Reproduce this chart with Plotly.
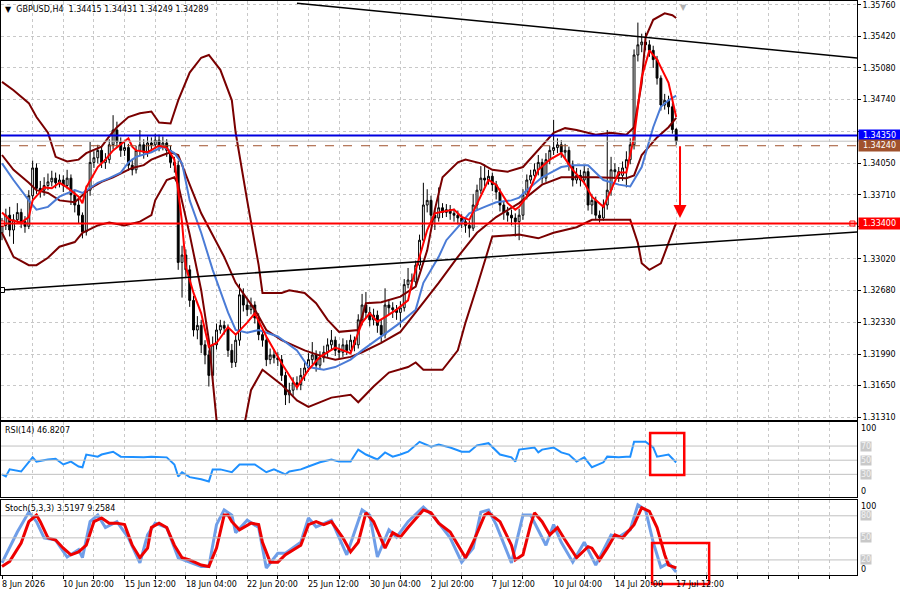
import plotly.graph_objects as go

# GBPUSD H4 candles, bar 0 = 8 Jun 2026, last bar = 17 Jul 12:00
opens = [
    1.3330, 1.3338, 1.3349, 1.3333, 1.3344, 1.3352, 1.3342, 1.3337, 1.3370, 1.3400,
    1.3378, 1.3376, 1.3381, 1.3385, 1.3389, 1.3384, 1.3387, 1.3381, 1.3389, 1.3371,
    1.3360, 1.3349, 1.3331, 1.3376, 1.3406, 1.3411, 1.3419, 1.3406, 1.3409, 1.3425,
    1.3441, 1.3428, 1.3419, 1.3422, 1.3403, 1.3398, 1.3419, 1.3425, 1.3417, 1.3427,
    1.3425, 1.3430, 1.3423, 1.3427, 1.3419, 1.3406, 1.3403, 1.3298, 1.3306, 1.3290,
    1.3257, 1.3225, 1.3230, 1.3209, 1.3198, 1.3176, 1.3209, 1.3225, 1.3230, 1.3227,
    1.3203, 1.3190, 1.3214, 1.3263, 1.3252, 1.3247, 1.3252, 1.3238, 1.3220, 1.3214,
    1.3193, 1.3198, 1.3195, 1.3193, 1.3176, 1.3155, 1.3160, 1.3168, 1.3166, 1.3176,
    1.3184, 1.3193, 1.3198, 1.3187, 1.3195, 1.3201, 1.3209, 1.3214, 1.3203, 1.3201,
    1.3209, 1.3203, 1.3214, 1.3209, 1.3236, 1.3252, 1.3244, 1.3236, 1.3241, 1.3230,
    1.3220, 1.3252, 1.3249, 1.3247, 1.3244, 1.3249, 1.3274, 1.3279, 1.3277, 1.3295,
    1.3322, 1.3360, 1.3365, 1.3349, 1.3346, 1.3357, 1.3352, 1.3355, 1.3351, 1.3349,
    1.3346, 1.3342, 1.3338, 1.3335, 1.3360, 1.3376, 1.3389, 1.3387, 1.3391, 1.3382,
    1.3374, 1.3360, 1.3352, 1.3349, 1.3346, 1.3342, 1.3349, 1.3371, 1.3387, 1.3392,
    1.3398, 1.3406, 1.3389, 1.3409, 1.3419, 1.3422, 1.3425, 1.3417, 1.3419, 1.3403,
    1.3387, 1.3392, 1.3387, 1.3396, 1.3360, 1.3365, 1.3349, 1.3346, 1.3360, 1.3376,
    1.3398, 1.3396, 1.3392, 1.3400, 1.3409, 1.3425, 1.3522, 1.3533, 1.3536, 1.3533,
    1.3527, 1.3517, 1.3497, 1.3468, 1.3473, 1.3466, 1.34415,
]
highs = [
    1.3346, 1.3356, 1.3358, 1.3350, 1.3362, 1.3356, 1.3348, 1.3376, 1.3408, 1.3405,
    1.3386, 1.3390, 1.3394, 1.3397, 1.3395, 1.3393, 1.3392, 1.3398, 1.3393, 1.3375,
    1.3366, 1.3352, 1.3381, 1.3428, 1.3418, 1.3425, 1.3423, 1.3416, 1.3431, 1.3457,
    1.3450, 1.3433, 1.3429, 1.3426, 1.3410, 1.3424, 1.3441, 1.3431, 1.3434, 1.3433,
    1.3437, 1.3436, 1.3434, 1.3431, 1.3424, 1.3412, 1.3408, 1.3316, 1.3312, 1.3295,
    1.3262, 1.3240, 1.3236, 1.3214, 1.3203, 1.3218, 1.3232, 1.3236, 1.3235, 1.3231,
    1.3210, 1.3220, 1.3275, 1.3270, 1.3258, 1.3260, 1.3256, 1.3243, 1.3226, 1.3218,
    1.3205, 1.3204, 1.3201, 1.3198, 1.3180, 1.3168, 1.3174, 1.3175, 1.3184, 1.3191,
    1.3200, 1.3212, 1.3203, 1.3202, 1.3208, 1.3216, 1.3225, 1.3218, 1.3210, 1.3216,
    1.3214, 1.3220, 1.3218, 1.3242, 1.3264, 1.3266, 1.3250, 1.3248, 1.3246, 1.3236,
    1.3270, 1.3258, 1.3255, 1.3252, 1.3256, 1.3280, 1.3292, 1.3286, 1.3300, 1.3328,
    1.3384, 1.3377, 1.3370, 1.3354, 1.3379, 1.3362, 1.3361, 1.3360, 1.3356, 1.3354,
    1.3350, 1.3346, 1.3343, 1.3372, 1.3382, 1.3402, 1.3404, 1.3398, 1.3395, 1.3386,
    1.3378, 1.3364, 1.3358, 1.3355, 1.3351, 1.3356, 1.3377, 1.3393, 1.3398, 1.3405,
    1.3414, 1.3410, 1.3416, 1.3424, 1.3452, 1.3432, 1.3430, 1.3426, 1.3423, 1.3408,
    1.3400, 1.3398, 1.3403, 1.3400, 1.3372, 1.3369, 1.3354, 1.3366, 1.3441, 1.3412,
    1.3405, 1.3401, 1.3407, 1.3418, 1.3432, 1.3528, 1.3557, 1.3545, 1.3546, 1.3538,
    1.3532, 1.3521, 1.3500, 1.3480, 1.3478, 1.3470, 1.34431,
]
lows = [
    1.3322, 1.3333, 1.3326, 1.3318, 1.3340, 1.3335, 1.3330, 1.3334, 1.3366, 1.3372,
    1.3368, 1.3370, 1.3376, 1.3380, 1.3378, 1.3379, 1.3374, 1.3377, 1.3360, 1.3352,
    1.3340, 1.3324, 1.3327, 1.3370, 1.3400, 1.3405, 1.3400, 1.3399, 1.3405, 1.3420,
    1.3422, 1.3412, 1.3413, 1.3397, 1.3392, 1.3394, 1.3414, 1.3410, 1.3412, 1.3419,
    1.3421, 1.3418, 1.3419, 1.3412, 1.3400, 1.3395, 1.3290, 1.3260, 1.3282, 1.3250,
    1.3218, 1.3215, 1.3200, 1.3188, 1.3164, 1.3170, 1.3204, 1.3221, 1.3220, 1.3196,
    1.3184, 1.3185, 1.3208, 1.3245, 1.3240, 1.3242, 1.3232, 1.3214, 1.3207, 1.3186,
    1.3188, 1.3189, 1.3186, 1.3170, 1.3144, 1.3146, 1.3154, 1.3160, 1.3160, 1.3170,
    1.3180, 1.3188, 1.3180, 1.3182, 1.3190, 1.3196, 1.3204, 1.3197, 1.3194, 1.3196,
    1.3198, 1.3199, 1.3202, 1.3205, 1.3230, 1.3238, 1.3229, 1.3230, 1.3222, 1.3212,
    1.3216, 1.3242, 1.3238, 1.3236, 1.3228, 1.3245, 1.3270, 1.3270, 1.3272, 1.3290,
    1.3318, 1.3352, 1.3340, 1.3333, 1.3342, 1.3346, 1.3347, 1.3344, 1.3342, 1.3339,
    1.3335, 1.3330, 1.3325, 1.3332, 1.3355, 1.3372, 1.3380, 1.3382, 1.3375, 1.3366,
    1.3353, 1.3344, 1.3342, 1.3338, 1.3326, 1.3322, 1.3344, 1.3366, 1.3383, 1.3387,
    1.3392, 1.3383, 1.3385, 1.3404, 1.3414, 1.3416, 1.3411, 1.3410, 1.3397, 1.3380,
    1.3383, 1.3380, 1.3382, 1.3354, 1.3350, 1.3344, 1.3341, 1.3343, 1.3355, 1.3370,
    1.3388, 1.3385, 1.3386, 1.3379, 1.3404, 1.3420, 1.3515, 1.3525, 1.3527, 1.3520,
    1.3508, 1.3490, 1.3462, 1.3463, 1.3458, 1.3437, 1.34249,
]
closes = [
    1.3338, 1.3349, 1.3333, 1.3344, 1.3352, 1.3342, 1.3337, 1.3370, 1.3400, 1.3378,
    1.3376, 1.3381, 1.3385, 1.3389, 1.3384, 1.3387, 1.3381, 1.3389, 1.3371, 1.3360,
    1.3349, 1.3331, 1.3376, 1.3406, 1.3411, 1.3419, 1.3406, 1.3409, 1.3425, 1.3441,
    1.3428, 1.3419, 1.3422, 1.3403, 1.3398, 1.3419, 1.3425, 1.3417, 1.3427, 1.3425,
    1.3430, 1.3423, 1.3427, 1.3419, 1.3406, 1.3403, 1.3298, 1.3306, 1.3290, 1.3257,
    1.3225, 1.3230, 1.3209, 1.3198, 1.3176, 1.3209, 1.3225, 1.3230, 1.3227, 1.3203,
    1.3190, 1.3214, 1.3263, 1.3252, 1.3247, 1.3252, 1.3238, 1.3220, 1.3214, 1.3193,
    1.3198, 1.3195, 1.3193, 1.3176, 1.3155, 1.3160, 1.3168, 1.3166, 1.3176, 1.3184,
    1.3193, 1.3198, 1.3187, 1.3195, 1.3201, 1.3209, 1.3214, 1.3203, 1.3201, 1.3209,
    1.3203, 1.3214, 1.3209, 1.3236, 1.3252, 1.3244, 1.3236, 1.3241, 1.3230, 1.3220,
    1.3252, 1.3249, 1.3247, 1.3244, 1.3249, 1.3274, 1.3279, 1.3277, 1.3295, 1.3322,
    1.3360, 1.3365, 1.3349, 1.3346, 1.3357, 1.3352, 1.3355, 1.3351, 1.3349, 1.3346,
    1.3342, 1.3338, 1.3335, 1.3360, 1.3376, 1.3389, 1.3387, 1.3391, 1.3382, 1.3374,
    1.3360, 1.3352, 1.3349, 1.3346, 1.3342, 1.3349, 1.3371, 1.3387, 1.3392, 1.3398,
    1.3406, 1.3389, 1.3409, 1.3419, 1.3422, 1.3425, 1.3417, 1.3419, 1.3403, 1.3387,
    1.3392, 1.3387, 1.3396, 1.3360, 1.3365, 1.3349, 1.3346, 1.3360, 1.3376, 1.3398,
    1.3396, 1.3392, 1.3400, 1.3409, 1.3425, 1.3522, 1.3533, 1.3536, 1.3533, 1.3527,
    1.3517, 1.3497, 1.3468, 1.3473, 1.3466, 1.34415, 1.34289,
]
bars = list(range(len(closes)))

x_tick_bars = [0, 16, 32, 48, 64, 80, 96, 112, 128, 144, 160, 176]
x_tick_labels = ["8 Jun 2026", "10 Jun 20:00", "15 Jun 12:00", "18 Jun 04:00",
                 "22 Jun 20:00", "25 Jun 12:00", "30 Jun 04:00", "2 Jul 20:00",
                 "7 Jul 12:00", "10 Jul 04:00", "14 Jul 20:00", "17 Jul 12:00"]

price_ticks = [1.35760, 1.35420, 1.35080, 1.34740, 1.34395, 1.34050, 1.33710,
               1.33365, 1.33020, 1.32680, 1.32330, 1.31990, 1.31650, 1.31310]
price_tick_text = ["1.35760", "1.35420", "1.35080", "1.34740", "", "1.34050", "1.33710",
                   "", "1.33020", "1.32680", "1.32330", "1.31990", "1.31650", "1.31310"]

# moving averages
fast_ma_bars = [0, 2, 5, 7, 8, 11, 13, 15, 17, 20, 21, 22, 25, 27, 29, 33, 34, 35, 38, 41,
                43, 45, 47, 48, 50, 52, 54, 56, 59, 61, 64, 66, 69, 73, 77, 80, 83, 87, 91, 94,
                96, 98, 100, 103, 106, 107, 109, 111, 113, 114, 118, 120, 122, 125, 127, 129,
                132, 134, 135, 137, 140, 143, 146, 149, 152, 154, 157, 159, 161, 163, 165, 167,
                169, 171, 174, 176]
fast_ma = [1.3352, 1.3344, 1.3341, 1.3347, 1.3365, 1.3379, 1.3378, 1.3384, 1.3379, 1.3369,
           1.3362, 1.3379, 1.3401, 1.3409, 1.3419, 1.3432, 1.3423, 1.3419, 1.3417, 1.3424,
           1.3422, 1.3409, 1.3341, 1.3293, 1.3265, 1.3243, 1.3207, 1.3211, 1.3228, 1.3220,
           1.3233, 1.3243, 1.3218, 1.3189, 1.3163, 1.3182, 1.3196, 1.3206, 1.3200, 1.3233,
           1.3243, 1.3234, 1.3239, 1.3247, 1.3257, 1.3276, 1.3304, 1.3333, 1.3351, 1.3352,
           1.3355, 1.3347, 1.3344, 1.3369, 1.3387, 1.3382, 1.3362, 1.3355, 1.3358, 1.3369,
           1.3398, 1.3409, 1.3416, 1.3398, 1.3384, 1.3369, 1.3358, 1.3376, 1.3395, 1.3395,
           1.3434, 1.3498, 1.3527, 1.3517, 1.3492, 1.3455]

slow_ma_bars = [0, 3, 7, 9, 12, 15, 19, 21, 25, 28, 31, 33, 35, 39, 42, 45, 47, 49, 52, 55,
                59, 61, 64, 67, 72, 77, 80, 84, 87, 91, 94, 99, 104, 108, 110, 114, 116, 119,
                122, 126, 129, 133, 135, 137, 141, 146, 149, 153, 157, 161, 164, 167, 170, 172,
                174, 176]
slow_ma = [1.3405, 1.3387, 1.3365, 1.3355, 1.3358, 1.3369, 1.3376, 1.3373, 1.3384, 1.3389,
           1.3395, 1.3406, 1.3412, 1.3417, 1.3423, 1.3416, 1.3405, 1.3365, 1.3330, 1.3290,
           1.3244, 1.3225, 1.3222, 1.3225, 1.3218, 1.3203, 1.3185, 1.3182, 1.3185, 1.3193,
           1.3203, 1.3218, 1.3233, 1.3247, 1.3276, 1.3304, 1.3322, 1.3336, 1.3351, 1.3358,
           1.3363, 1.3365, 1.3368, 1.3376, 1.3390, 1.3401, 1.3403, 1.3403, 1.3387, 1.3382,
           1.3380, 1.3401, 1.3444, 1.3466, 1.3473, 1.3478]

# Bollinger bands
bb_upper_bars = [0, 3, 7, 9, 12, 14, 17, 20, 22, 26, 28, 30, 33, 36, 39, 41, 44, 46, 49, 52,
                 54, 57, 60, 61, 64, 67, 68, 73, 75, 79, 82, 85, 88, 93, 95, 99, 104, 108, 111,
                 113, 115, 119, 121, 125, 128, 132, 136, 140, 144, 147, 150, 155, 159, 163, 165,
                 167, 168, 170, 173, 175, 176]
bb_upper = [1.3493, 1.3484, 1.3470, 1.3455, 1.3438, 1.3412, 1.3407, 1.3409, 1.3416, 1.3423,
            1.3434, 1.3444, 1.3455, 1.3459, 1.3461, 1.3449, 1.3448, 1.3473, 1.3503, 1.3519,
            1.3522, 1.3506, 1.3473, 1.3438, 1.3365, 1.3295, 1.3265, 1.3265, 1.3268, 1.3265,
            1.3254, 1.3236, 1.3223, 1.3225, 1.3254, 1.3255, 1.3261, 1.3272, 1.3311, 1.3355,
            1.3390, 1.3406, 1.3409, 1.3405, 1.3398, 1.3396, 1.3401, 1.3419, 1.3438, 1.3443,
            1.3441, 1.3436, 1.3438, 1.3436, 1.3444, 1.3492, 1.3541, 1.3560, 1.3567, 1.3565,
            1.3562]
bb_mid_bars = [0, 3, 7, 9, 12, 15, 19, 21, 23, 26, 29, 32, 34, 37, 39, 42, 44, 46, 47, 49,
               52, 58, 61, 66, 69, 73, 79, 84, 87, 91, 94, 99, 104, 108, 114, 119, 124, 129,
               135, 141, 146, 155, 163, 165, 167, 171, 174, 176]
bb_mid = [1.3414, 1.3398, 1.3384, 1.3376, 1.3373, 1.3365, 1.3363, 1.3371, 1.3378, 1.3385,
          1.3390, 1.3396, 1.3400, 1.3403, 1.3409, 1.3414, 1.3417, 1.3414, 1.3403, 1.3382,
          1.3351, 1.3304, 1.3276, 1.3247, 1.3225, 1.3214, 1.3203, 1.3196, 1.3193, 1.3196,
          1.3201, 1.3211, 1.3223, 1.3244, 1.3276, 1.3304, 1.3330, 1.3347, 1.3362, 1.3382,
          1.3390, 1.3390, 1.3389, 1.3392, 1.3414, 1.3433, 1.3444, 1.3454]
bb_lower_bars = [0, 3, 7, 9, 12, 15, 19, 21, 25, 28, 32, 36, 39, 40, 43, 45, 46, 49, 52, 54,
                 56, 58, 61, 63, 65, 68, 73, 77, 80, 86, 91, 93, 97, 101, 106, 108, 110, 115,
                 119, 121, 124, 127, 128, 135, 140, 144, 150, 154, 164, 166, 167, 169, 172,
                 174, 176]
bb_lower = [1.3330, 1.3304, 1.3295, 1.3295, 1.3303, 1.3315, 1.3320, 1.3330, 1.3338, 1.3341,
            1.3338, 1.3342, 1.3349, 1.3365, 1.3387, 1.3390, 1.3382, 1.3328, 1.3268, 1.3214,
            1.3128, 1.3095, 1.3090, 1.3117, 1.3160, 1.3182, 1.3166, 1.3149, 1.3142, 1.3152,
            1.3155, 1.3147, 1.3164, 1.3179, 1.3185, 1.3190, 1.3182, 1.3182, 1.3203, 1.3233,
            1.3272, 1.3311, 1.3326, 1.3328, 1.3324, 1.3330, 1.3336, 1.3344, 1.3344, 1.3319,
            1.3297, 1.3290, 1.3297, 1.3319, 1.3341]

# RSI(14)
rsi_bars = [0, 1, 2, 5, 8, 9, 12, 14, 16, 18, 20, 21, 22, 25, 26, 29, 31, 34, 37, 39,
            43, 45, 46, 47, 49, 52, 54, 55, 57, 60, 62, 66, 69, 71, 74, 75, 78, 80, 83, 86,
            88, 91, 93, 95, 98, 100, 102, 104, 106, 109, 112, 114, 117, 120, 122, 124, 127,
            130, 133, 134, 135, 139, 140, 141, 144, 146, 148, 150, 152, 154, 157, 158, 161,
            163, 164, 165, 168, 170, 171, 174, 176]
rsi_vals = [30, 27, 37, 34, 54, 48, 51, 52, 44, 48, 41, 40, 58, 55, 58, 62, 55, 54, 54, 55,
            54, 44, 27, 33, 26, 23, 20, 37, 37, 33, 44, 44, 33, 37, 30, 34, 37, 41, 47, 51,
            48, 48, 65, 58, 51, 61, 55, 58, 62, 76, 69, 72, 68, 62, 62, 71, 74, 58, 54, 48,
            65, 68, 61, 65, 68, 61, 58, 48, 54, 40, 47, 55, 54, 55, 55, 76, 76, 68, 55, 58,
            46.8207]
rsi_levels = [30, 50, 70]

# Stochastic(5,3,3)
stoch_main_bars = [0, 4, 7, 9, 11, 14, 17, 20, 21, 23, 25, 27, 30, 33, 36, 38, 40, 43, 46,
                   49, 52, 54, 56, 58, 60, 61, 64, 67, 69, 72, 74, 78, 80, 82, 86, 90, 94, 96,
                   98, 101, 103, 106, 110, 113, 117, 120, 123, 125, 127, 129, 132, 133, 136,
                   138, 142, 144, 146, 149, 152, 155, 159, 161, 164, 166, 168, 170, 172, 174, 176]
stoch_main = [16, 58, 85, 72, 50, 47, 24, 34, 23, 72, 81, 64, 72, 50, 16, 54, 70, 64, 23, 17,
              11, 11, 68, 88, 81, 57, 74, 64, 9, 29, 29, 44, 77, 65, 74, 27, 88, 81, 24, 61,
              51, 72, 92, 77, 50, 17, 36, 85, 88, 68, 27, 16, 81, 81, 40, 68, 44, 17, 44, 13,
              54, 51, 61, 95, 88, 44, 10, 16, 3.5197]
stoch_signal_bars = [0, 2, 5, 7, 9, 10, 12, 14, 16, 18, 20, 22, 24, 26, 28, 30, 32, 34, 36, 38,
                     39, 41, 43, 45, 47, 49, 52, 54, 56, 58, 59, 60, 62, 65, 67, 68, 70, 72, 74,
                     78, 80, 82, 84, 86, 89, 91, 93, 95, 97, 100, 102, 104, 106, 110, 112, 114,
                     117, 119, 121, 123, 126, 127, 130, 133, 134, 136, 138, 139, 141, 143, 145,
                     147, 150, 153, 154, 156, 158, 160, 162, 165, 167, 169, 171, 173, 174, 176]
stoch_signal = [11, 18, 43, 72, 81, 72, 50, 47, 36, 27, 31, 40, 72, 77, 70, 70, 68, 40, 23, 36,
                64, 70, 64, 40, 23, 20, 13, 11, 36, 81, 81, 72, 61, 70, 68, 44, 17, 17, 27, 40,
                68, 72, 68, 72, 50, 31, 44, 84, 72, 36, 57, 51, 64, 88, 84, 70, 58, 40, 23, 44,
                81, 84, 72, 40, 20, 27, 68, 84, 72, 54, 64, 47, 23, 38, 36, 20, 36, 54, 50, 68,
                91, 86, 64, 27, 13, 9.2584]
stoch_levels = [20, 50, 80]

# chart objects
level_blue = 1.34350
level_brown = 1.34240
level_red = 1.33400
trend_upper_bars = [77, 224]
trend_upper_prices = [1.35780, 1.35184]
trend_lower_bars = [0, 224]
trend_lower_prices = [1.32682, 1.33312]
handle_bars = [0, 222]
arrow_bar = 177
arrow_from = 1.3425
arrow_to = 1.3346
rsi_box_bars = [169.2, 178.1]
rsi_box_vals = [29, 88.5]
stoch_box_bars = [169.7, 184.6]
stoch_box_vals = [-12.7, 43]

FONT = "DejaVu Sans"
GRID = "#c8c8c8"
X_RANGE = [-0.26, 223.2]
MAIN_DOM = [0.270, 1.0]
RSI_DOM = [0.1359, 0.2666]
STO_DOM = [0.0, 0.1307]
MAIN_RANGE = [1.31278, 1.35803]
RSI_RANGE = [-2, 104]
STO_RANGE = [-0.5, 101.5]


def bar_to_paper(b):
    return (b - X_RANGE[0]) / (X_RANGE[1] - X_RANGE[0])


def sto_to_paper(v):
    return STO_DOM[0] + (v - STO_RANGE[0]) / (STO_RANGE[1] - STO_RANGE[0]) * (STO_DOM[1] - STO_DOM[0])


fig = go.Figure()

fig.add_trace(go.Candlestick(
    x=bars, open=opens, high=highs, low=lows, close=closes,
    increasing=dict(fillcolor="white", line=dict(color="black", width=1)),
    decreasing=dict(fillcolor="black", line=dict(color="black", width=1)),
    whiskerwidth=0, showlegend=False, xaxis="x", yaxis="y",
))

for bx, by in [(bb_upper_bars, bb_upper), (bb_mid_bars, bb_mid), (bb_lower_bars, bb_lower)]:
    fig.add_trace(go.Scatter(x=bx, y=by, mode="lines", line=dict(color="#7a0000", width=2),
                             showlegend=False, xaxis="x", yaxis="y"))
fig.add_trace(go.Scatter(x=slow_ma_bars, y=slow_ma, mode="lines",
                         line=dict(color="#4a7bd6", width=2), showlegend=False, xaxis="x", yaxis="y"))
fig.add_trace(go.Scatter(x=fast_ma_bars, y=fast_ma, mode="lines",
                         line=dict(color="#ff0000", width=2), showlegend=False, xaxis="x", yaxis="y"))

# trendlines
fig.add_trace(go.Scatter(x=trend_upper_bars, y=trend_upper_prices, mode="lines",
                         line=dict(color="black", width=1.5), showlegend=False, xaxis="x", yaxis="y"))
fig.add_trace(go.Scatter(x=trend_lower_bars, y=trend_lower_prices, mode="lines",
                         line=dict(color="black", width=1.5), showlegend=False, xaxis="x", yaxis="y"))

# horizontal levels
fig.add_shape(type="line", xref="paper", x0=0, x1=1, yref="y", y0=closes[-1], y1=closes[-1],
              line=dict(color="#c0c0c0", width=1))
fig.add_shape(type="line", xref="paper", x0=0, x1=1, yref="y", y0=level_brown, y1=level_brown,
              line=dict(color="#a0522d", width=1, dash="dash"))
fig.add_shape(type="line", xref="paper", x0=0, x1=1, yref="y", y0=level_blue, y1=level_blue,
              line=dict(color="#0000e0", width=2))
fig.add_shape(type="line", xref="paper", x0=0, x1=1, yref="y", y0=level_red, y1=level_red,
              line=dict(color="#ff0000", width=2))

fig.add_trace(go.Scatter(x=handle_bars, y=[level_red, level_red], mode="markers",
                         marker=dict(symbol="square", size=5, color="white",
                                     line=dict(color="#ff0000", width=1)),
                         showlegend=False, xaxis="x", yaxis="y"))
fig.add_trace(go.Scatter(x=trend_lower_bars[:1], y=trend_lower_prices[:1], mode="markers",
                         marker=dict(symbol="square", size=5, color="white",
                                     line=dict(color="black", width=1)),
                         showlegend=False, xaxis="x", yaxis="y"))

# RSI panel
for lv in rsi_levels:
    fig.add_shape(type="line", xref="paper", x0=0, x1=1, yref="y2", y0=lv, y1=lv,
                  line=dict(color="#c0c0c0", width=1))
fig.add_trace(go.Scatter(x=rsi_bars, y=rsi_vals, mode="lines",
                         line=dict(color="#1e90ff", width=2), showlegend=False, xaxis="x2", yaxis="y2"))

# Stochastic panel
for lv in stoch_levels:
    fig.add_shape(type="line", xref="paper", x0=0, x1=1, yref="y3", y0=lv, y1=lv,
                  line=dict(color="#c0c0c0", width=1))
fig.add_trace(go.Scatter(x=stoch_main_bars, y=stoch_main, mode="lines",
                         line=dict(color="#6f9ee8", width=3), showlegend=False, xaxis="x3", yaxis="y3"))
fig.add_trace(go.Scatter(x=stoch_signal_bars, y=stoch_signal, mode="lines",
                         line=dict(color="#ee0000", width=3), showlegend=False, xaxis="x3", yaxis="y3"))

# highlight boxes
fig.add_shape(type="rect", xref="x2", yref="y2", x0=rsi_box_bars[0], x1=rsi_box_bars[1],
              y0=rsi_box_vals[0], y1=rsi_box_vals[1], line=dict(color="#ff0000", width=2.5))
fig.add_shape(type="rect", xref="paper", yref="paper",
              x0=bar_to_paper(stoch_box_bars[0]), x1=bar_to_paper(stoch_box_bars[1]),
              y0=sto_to_paper(stoch_box_vals[0]), y1=sto_to_paper(stoch_box_vals[1]),
              line=dict(color="#ff0000", width=2.5))

# arrow
fig.add_annotation(x=arrow_bar, y=arrow_to, ax=arrow_bar, ay=arrow_from, xref="x", yref="y",
                   axref="x", ayref="y", showarrow=True, arrowhead=2, arrowsize=1.3,
                   arrowwidth=2, arrowcolor="#ff0000", text="")

# level price labels on the right scale
for price, bg in [(level_blue, "#0000ff"), (level_brown, "#a0522d"), (level_red, "#ff0000")]:
    fig.add_annotation(xref="paper", x=1, xanchor="left", yref="y", y=price,
                       text=f"{price:.5f}", showarrow=False, bgcolor=bg, borderpad=0,
                       width=41, height=11, xshift=1,
                       font=dict(color="white", size=8, family=FONT))

# panel captions
fig.add_annotation(xref="paper", yref="paper", x=0, y=1, xanchor="left", yanchor="top",
                   xshift=2, yshift=-2, showarrow=False,
                   text=f"▼  GBPUSD,H4  {opens[-1]:.5f} {highs[-1]:.5f} {lows[-1]:.5f} {closes[-1]:.5f}",
                   font=dict(size=8, family=FONT, color="black"))
fig.add_annotation(xref="paper", yref="paper", x=0, y=RSI_DOM[1], xanchor="left", yanchor="top",
                   xshift=2, yshift=-2, showarrow=False,
                   text=f"RSI(14) {rsi_vals[-1]:.4f}", font=dict(size=8, family=FONT, color="black"))
fig.add_annotation(xref="paper", yref="paper", x=0, y=STO_DOM[1], xanchor="left", yanchor="top",
                   xshift=2, yshift=-2, showarrow=False,
                   text=f"Stoch(5,3,3) {stoch_main[-1]:.4f} {stoch_signal[-1]:.4f}",
                   font=dict(size=8, family=FONT, color="black"))
fig.add_annotation(xref="x", yref="paper", x=177.8, y=1, yanchor="top", showarrow=False,
                   text="▼", font=dict(size=8, color="#b0b0b0", family=FONT))

# sub-window scale labels
for val, shift in [(100, -4), (0, 4)]:
    fig.add_annotation(xref="paper", x=1, xanchor="left", xshift=2, yref="y2", y=val, yshift=shift,
                       text=str(val), showarrow=False, font=dict(size=8, family=FONT, color="black"))
for val in rsi_levels:
    fig.add_annotation(xref="paper", x=1, xanchor="left", xshift=3, yref="y2", y=val,
                       text=str(val), showarrow=False, bgcolor="#c8c8c8", borderpad=0,
                       font=dict(size=8, family=FONT, color="#f2f2f2"))
for val, shift in [(100, -5), (0, 5)]:
    fig.add_annotation(xref="paper", x=1, xanchor="left", xshift=2, yref="y3", y=val, yshift=shift,
                       text=str(val), showarrow=False, font=dict(size=8, family=FONT, color="black"))
for val in stoch_levels:
    fig.add_annotation(xref="paper", x=1, xanchor="left", xshift=3, yref="y3", y=val,
                       text=str(val), showarrow=False, bgcolor="#c8c8c8", borderpad=0,
                       font=dict(size=8, family=FONT, color="#f2f2f2"))

# time labels
for b, lab in zip(x_tick_bars, x_tick_labels):
    fig.add_annotation(xref="x3", x=b, yref="paper", y=0, xanchor="left", yanchor="top",
                       xshift=-2, yshift=-3, text=lab, showarrow=False,
                       font=dict(size=8, family=FONT, color="black"))

xcommon = dict(range=X_RANGE, showticklabels=False, tickmode="linear", tick0=0, dtick=8,
               showgrid=True, gridcolor=GRID, griddash="3px,3px", gridwidth=1, zeroline=False,
               showline=True, mirror=True, linecolor="black", linewidth=1)
ycommon = dict(side="right", zeroline=False, showline=True, mirror=True, linecolor="black",
               linewidth=1)

fig.update_layout(
    width=900, height=593,
    margin=dict(l=1, r=43, t=1, b=18),
    paper_bgcolor="white", plot_bgcolor="white",
    showlegend=False,
    font=dict(family=FONT, size=8, color="black"),
    xaxis=dict(domain=[0, 1], anchor="y", rangeslider=dict(visible=False), ticks="", **xcommon),
    xaxis2=dict(domain=[0, 1], anchor="y2", matches="x", ticks="", **xcommon),
    xaxis3=dict(domain=[0, 1], anchor="y3", matches="x", ticks="outside", ticklen=3,
                tickcolor="black", **xcommon),
    yaxis=dict(domain=MAIN_DOM, range=MAIN_RANGE, tickmode="array", tickvals=price_ticks,
               ticktext=price_tick_text, ticks="outside", ticklen=3, tickcolor="black",
               showgrid=True, gridcolor=GRID, griddash="3px,3px",
               tickfont=dict(size=8, family=FONT, color="black"), **ycommon),
    yaxis2=dict(domain=RSI_DOM, range=RSI_RANGE, showticklabels=False, showgrid=False,
                ticks="", **ycommon),
    yaxis3=dict(domain=STO_DOM, range=STO_RANGE, showticklabels=False, showgrid=False,
                ticks="", **ycommon),
)

fig.write_html("out.html", config={"displayModeBar": False},
               post_script="document.body.style.margin='0px';")
